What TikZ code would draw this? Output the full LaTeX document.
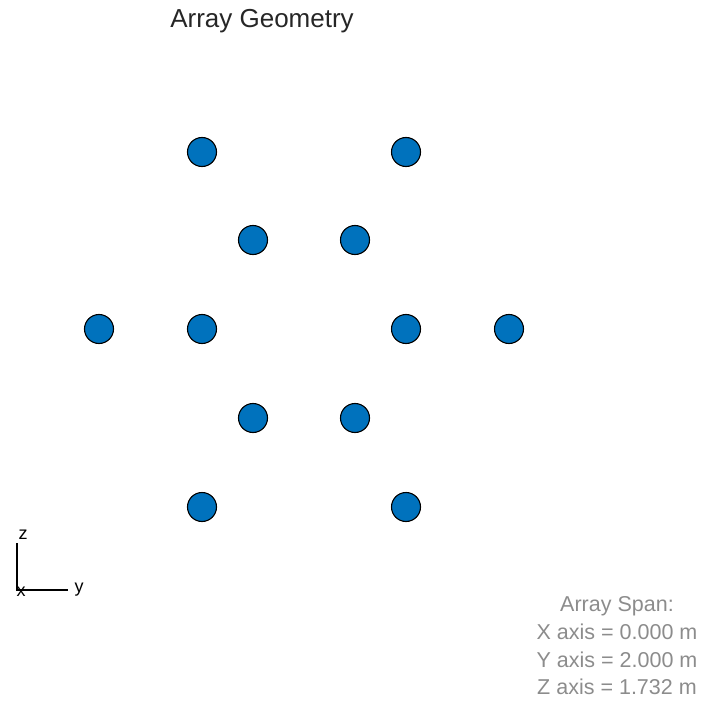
\documentclass[tikz,border=0pt]{standalone}
\usepackage{fontspec}
\setmainfont{Liberation Sans}
\definecolor{elemblue}{HTML}{0072BD}
\definecolor{spangray}{HTML}{8C8C8C}
\begin{document}
\begin{tikzpicture}[x=1pt, y=-1pt, line width=1pt]
  \useasboundingbox (0,0) rectangle (705,701);
  \tikzset{elem/.style={circle, draw=black, fill=elemblue, line width=1.1pt, minimum size=29pt, inner sep=0pt}}
  \node[font=\fontsize{26}{30}\selectfont, text=black!85] (title) at (262,21) {Array Geometry};
  % array elements
  \foreach \n/\px/\py in {1/202/152, 2/406/152, 3/253/240, 4/355/240, 5/99/329, 6/202/329,
                          7/406/329, 8/509/329, 9/253/418, 10/355/418, 11/202/507, 12/406/507}
    \node[elem] (e\n) at (\px,\py) {};
  % axis triad
  \coordinate (o) at (17,590);
  \coordinate (zt) at (17,543);
  \coordinate (yt) at (68,590);
  \draw[line width=1.5pt] (zt) -- (o) -- (yt);
  \node[font=\fontsize{18}{20}\selectfont, inner sep=0pt] (zl) at (23,535) {z};
  \node[font=\fontsize{18}{20}\selectfont, inner sep=0pt] (xl) at (21,592) {x};
  \node[font=\fontsize{18}{20}\selectfont, inner sep=0pt] (yl) at (79,590) {y};
  % span text
  \node[font=\fontsize{21.5}{27.7}\selectfont, text=spangray, align=center, anchor=north] (span) at (617,593)
    {Array Span:\\X axis = 0.000 m\\Y axis = 2.000 m\\Z axis = 1.732 m};
\end{tikzpicture}
\end{document}
